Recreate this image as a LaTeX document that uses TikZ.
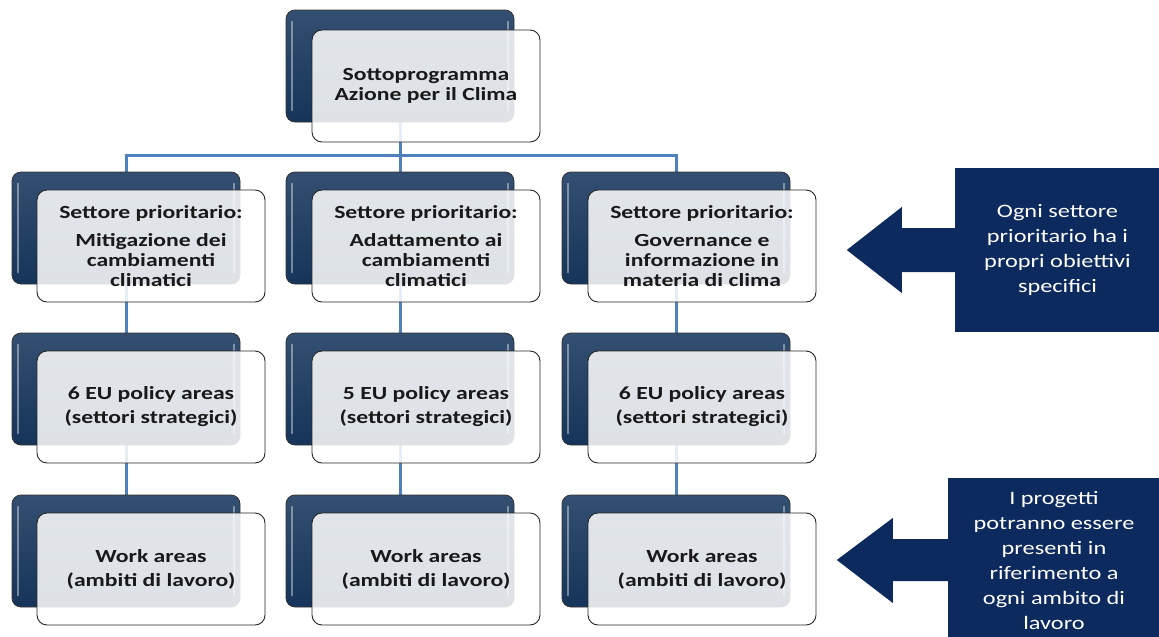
\documentclass[tikz,border=0pt]{standalone}
\usepackage{fontspec}
\setmainfont{Carlito}[FakeStretch=1.28]
\usetikzlibrary{positioning,backgrounds}
\definecolor{scuro}{HTML}{17375E}
\definecolor{blu}{HTML}{0D2A5E}
\definecolor{linea}{HTML}{4F81BD}
\tikzset{
  backbox/.style={draw=black!80, line width=0.8pt, rounded corners=9pt, inner sep=0pt,
    minimum width=228pt, minimum height=112pt,
    top color=scuro!88!white, middle color=scuro, bottom color=scuro!95!black},
  frontbox/.style={draw=black!85, line width=0.9pt, rounded corners=10pt,
    fill=white, fill opacity=0.86, text opacity=1, text=black!90,
    minimum width=228pt, minimum height=112pt, align=center,
    font=\bfseries\fontsize{18.5}{20}\selectfont},
  notebox/.style={fill=blu, text=white, align=center, inner sep=0pt,
    minimum width=205pt, minimum height=164pt,
    font=\fontsize{19}{25}\selectfont},
  conn/.style={draw=linea, line width=3pt},
  gloss/.style={white, opacity=.4, line width=2pt, line cap=round}
}
\begin{document}
\begin{tikzpicture}[x=1pt,y=-1pt]
\useasboundingbox (0,0) rectangle (1159,637);
% dark boxes
\node[backbox] (top-b) at (400,66) {};
\node[backbox] (s1-b) at (126,228) {};
\node[backbox] (s2-b) at (400,228) {};
\node[backbox] (s3-b) at (676,228) {};
\node[backbox] (p1-b) at (126,389) {};
\node[backbox] (p2-b) at (400,389) {};
\node[backbox] (p3-b) at (676,389) {};
\node[backbox] (w1-b) at (126,551) {};
\node[backbox] (w2-b) at (400,551) {};
\node[backbox] (w3-b) at (676,551) {};
\foreach \n in {top-b,s1-b,s2-b,s3-b,p1-b,p2-b,p3-b,w1-b,w2-b,w3-b}{
  \draw[gloss] ([xshift=6pt,yshift=-12pt]\n.north west) -- ([xshift=6pt,yshift=12pt]\n.south west);
  \draw[gloss] ([xshift=-6pt,yshift=-12pt]\n.north east) -- ([xshift=-6pt,yshift=12pt]\n.south east);
}
% connectors
\coordinate (bus) at (400,155);
\begin{pgfonlayer}{background}
\draw[conn] (top-b.south) -- (bus);
\draw[conn] (s1-b.north) |- (bus) -| (s3-b.north);
\draw[conn] (bus) -- (s2-b.north);
\draw[conn] (s1-b.south) -- (p1-b.north);
\draw[conn] (s2-b.south) -- (p2-b.north);
\draw[conn] (s3-b.south) -- (p3-b.north);
\draw[conn] (p1-b.south) -- (w1-b.north);
\draw[conn] (p2-b.south) -- (w2-b.north);
\draw[conn] (p3-b.south) -- (w3-b.north);
\end{pgfonlayer}
% light boxes
\node[frontbox] (top) at (426,86) {Sottoprogramma\\Azione per il Clima};
\node[frontbox] (s1) at (151,246) {Settore prioritario:\\[8pt]Mitigazione dei\\cambiamenti\\climatici};
\node[frontbox] (s2) at (426,246) {Settore prioritario:\\[8pt]Adattamento ai\\cambiamenti\\climatici};
\node[frontbox] (s3) at (702,246) {Settore prioritario:\\[8pt]Governance e\\informazione in\\materia di clima};
\node[frontbox] (p1) at (151,407) {6 EU policy areas\\[4pt](settori strategici)};
\node[frontbox] (p2) at (426,407) {5 EU policy areas\\[4pt](settori strategici)};
\node[frontbox] (p3) at (702,407) {6 EU policy areas\\[4pt](settori strategici)};
\node[frontbox] (w1) at (151,569) {Work areas\\[4pt](ambiti di lavoro)};
\node[frontbox] (w2) at (426,569) {Work areas\\[4pt](ambiti di lavoro)};
\node[frontbox] (w3) at (702,569) {Work areas\\[4pt](ambiti di lavoro)};
% notes with arrows
\node[notebox] (n1) at (1057.5,250) {Ogni settore\\prioritario ha i\\propri obiettivi\\specifici};
\fill[blu] ([xshift=1pt]n1.west) ++(0,-22) -- ++(-54,0) -- ++(0,-21) -- ++(-55,43)
  -- ++(55,43) -- ++(0,-21) -- ++(54,0) -- cycle;
\node[notebox, minimum width=212pt] (n2) at (1054,560) {I progetti\\potranno essere\\presenti in\\riferimento a\\ogni ambito di\\lavoro};
\fill[blu] ([xshift=1pt]n2.west) ++(0,-21) -- ++(-56,0) -- ++(0,-21) -- ++(-56,42)
  -- ++(56,43) -- ++(0,-22) -- ++(56,0) -- cycle;
\end{tikzpicture}
\end{document}
